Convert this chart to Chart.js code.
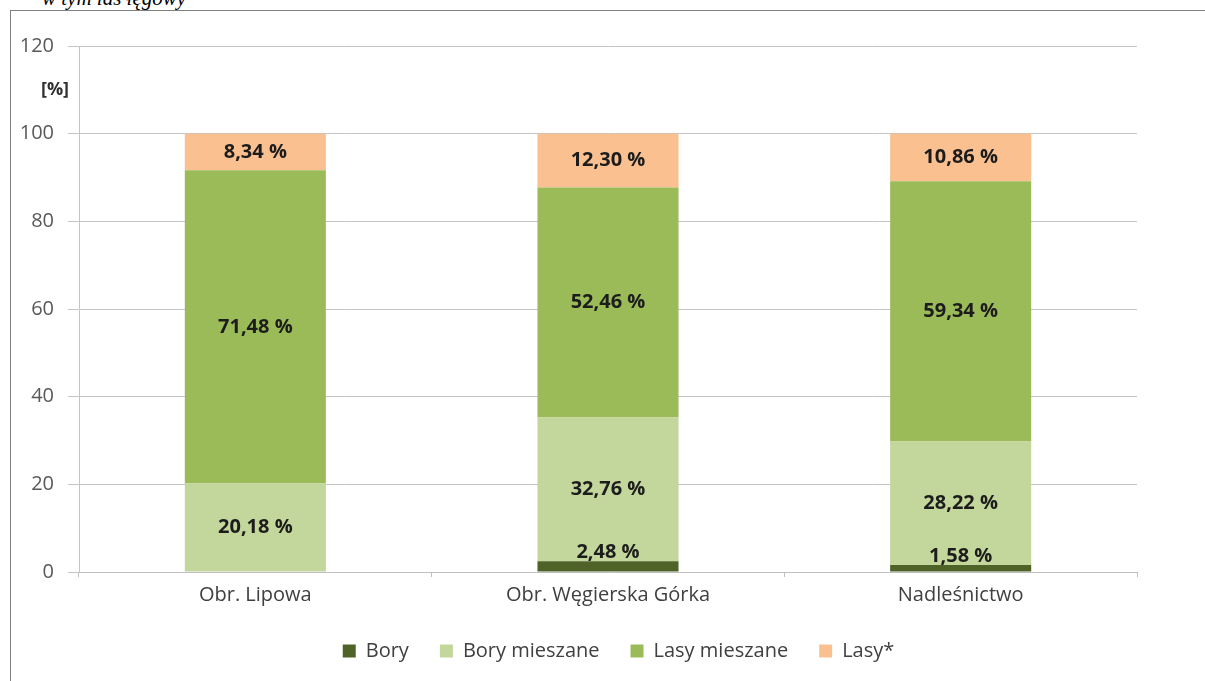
<!DOCTYPE html>
<html>
<head>
<meta charset="utf-8">
<script src="https://cdn.jsdelivr.net/npm/chart.js@4"></script>
<style>
	body { margin: 0; background: #fff; overflow: hidden; }
	#wrap { position: relative; width: 1205px; height: 681px; }
	#frame { position: absolute; left: 10px; top: 10px; right: -2px; bottom: -2px;
		border-top: 1px solid #808080; border-left: 1px solid #808080; }
	#note { position: absolute; left: 42px; top: -14px; font: italic 21px "Liberation Serif", serif; color: #000; }
	#chart { position: absolute; left: 0; top: 0; }
</style>
</head>
<body>
<div id="wrap">
	<div id="note">w tym las łęgowy</div>
	<div id="frame"></div>
	<canvas id="chart" width="1205" height="681"></canvas>
</div>
<script>
const categories = ['Obr. Lipowa', 'Obr. Węgierska Górka', 'Nadleśnictwo'];
const seriesNames = ['Bory', 'Bory mieszane', 'Lasy mieszane', 'Lasy*'];
const bory = [0, 2.48, 1.58];
const boryMieszane = [20.18, 32.76, 28.22];
const lasyMieszane = [71.48, 52.46, 59.34];
const lasy = [8.34, 12.30, 10.86];
const seriesColors = ['#4f6228', '#c3d69b', '#9bbb59', '#fac090'];
const yTicks = [0, 20, 40, 60, 80, 100, 120];

const fontFamily = '"Open Sans", sans-serif';

// label each segment with its value, e.g. "20,18 %"
const segmentLabels = {
	id: 'segmentLabels',
	afterDatasetsDraw(chart) {
		const ctx = chart.ctx;
		ctx.save();
		ctx.font = 'bold 20px ' + fontFamily;
		ctx.fillStyle = '#1c1c1c';
		ctx.textAlign = 'center';
		chart.data.datasets.forEach((ds, di) => {
			chart.getDatasetMeta(di).data.forEach((bar, i) => {
				const v = ds.data[i];
				if (!v) return;
				const text = v.toFixed(2).replace('.', ',') + ' %';
				if (di === 0) {
					// thin bottom segment: label sits just above it
					ctx.textBaseline = 'alphabetic';
					ctx.fillText(text, bar.x, bar.y - 3);
				} else {
					ctx.textBaseline = 'middle';
					ctx.fillText(text, bar.x, (bar.y + bar.base) / 2);
				}
			});
		});
		ctx.restore();
	}
};

// the "[%]" unit marker next to the y axis
const unitLabel = {
	id: 'unitLabel',
	afterDraw(chart) {
		const ctx = chart.ctx;
		const y = chart.scales.y.getPixelForValue(110);
		ctx.save();
		ctx.font = 'bold 18px ' + fontFamily;
		ctx.fillStyle = '#303030';
		ctx.textAlign = 'center';
		ctx.textBaseline = 'middle';
		ctx.fillText('[%]', 55, y);
		ctx.restore();
	}
};

// legend sits a bit right of the chart's middle and slightly higher
const legendShift = {
	id: 'legendShift',
	afterLayout(chart) {
		chart.legend.left += 50;
		chart.legend.right += 50;
		chart.legend.top -= 3;
		chart.legend.bottom -= 3;
	}
};

const datasets = [bory, boryMieszane, lasyMieszane, lasy].map((values, i) => ({
	label: seriesNames[i],
	data: values,
	backgroundColor: seriesColors[i],
	borderWidth: 0,
	barPercentage: 0.4,
	categoryPercentage: 1
}));

new Chart(document.getElementById('chart'), {
	type: 'bar',
	data: { labels: categories, datasets: datasets },
	options: {
		responsive: false,
		animation: false,
		layout: { padding: { top: 46, right: 68, bottom: 7, left: 0 } },
		scales: {
			x: {
				stacked: true,
				grid: { drawOnChartArea: false, color: '#bfbfbf', tickLength: 5 },
				border: { color: '#bfbfbf' },
				ticks: { color: '#404040', font: { family: fontFamily, size: 20 }, padding: 6 }
			},
			y: {
				stacked: true,
				min: 0,
				max: 120,
				afterBuildTicks(scale) {
					scale.ticks = yTicks.map((v) => ({ value: v }));
				},
				afterFit(scale) {
					scale.width = 79;
				},
				grid: { color: '#c4c4c4', tickLength: 11 },
				border: { color: '#c4c4c4' },
				ticks: { color: '#595959', font: { family: fontFamily, size: 20 }, padding: 14 }
			}
		},
		plugins: {
			legend: {
				position: 'bottom',
				labels: {
					boxWidth: 13,
					boxHeight: 13,
					color: '#404040',
					font: { family: fontFamily, size: 20 },
					padding: 31
				}
			},
			tooltip: { enabled: false }
		}
	},
	plugins: [segmentLabels, unitLabel, legendShift]
});
</script>
</body>
</html>
